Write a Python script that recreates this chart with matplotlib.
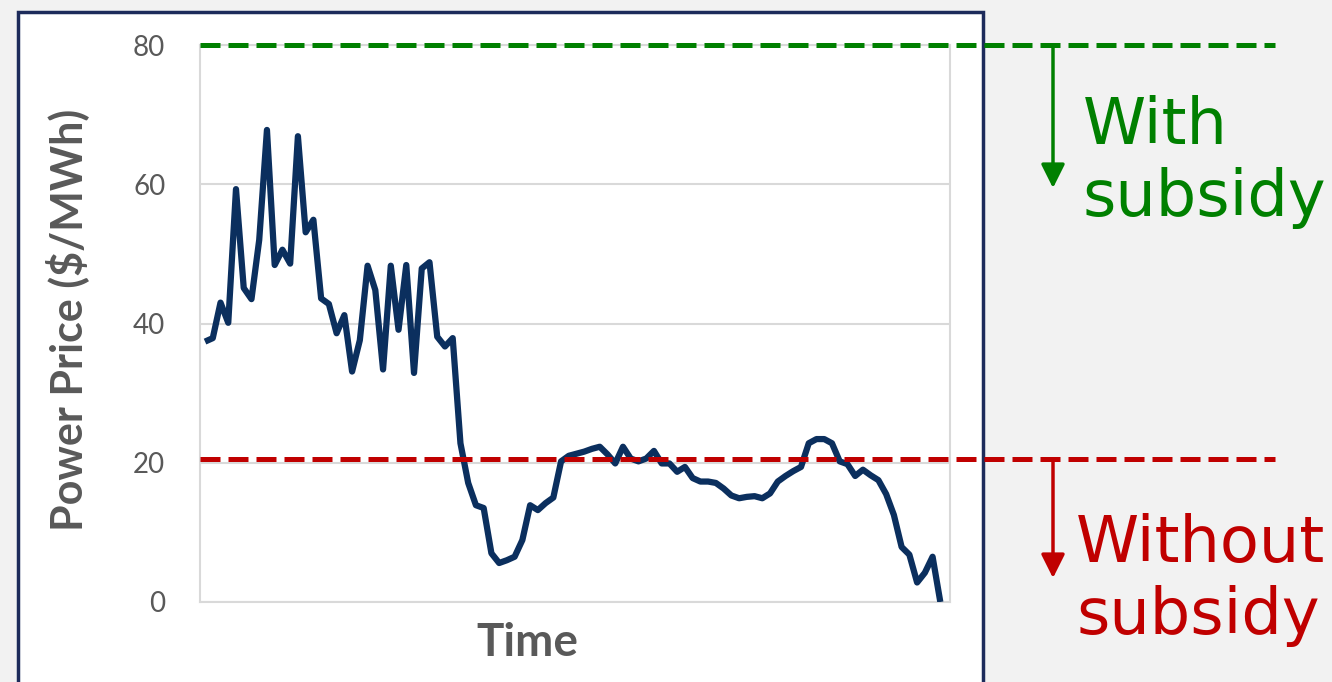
import matplotlib.pyplot as plt
from matplotlib.patches import Rectangle

# 15-minute power prices over one day ($/MWh)
price = [37.4, 37.9, 43.0, 40.1, 59.3, 45.1, 43.5, 52.0, 67.8, 48.4,
         50.6, 48.6, 66.9, 53.1, 54.9, 43.6, 42.8, 38.6, 41.2, 33.1,
         37.6, 48.3, 44.8, 33.4, 48.3, 39.1, 48.4, 32.9, 47.9, 48.8,
         38.1, 36.7, 37.9, 22.8, 17.1, 13.9, 13.5, 7.0, 5.6, 6.0,
         6.5, 8.9, 13.9, 13.2, 14.2, 15.0, 20.2, 21.0, 21.3, 21.6,
         22.0, 22.3, 21.2, 19.9, 22.3, 20.6, 20.2, 20.6, 21.7, 19.9,
         19.9, 18.7, 19.4, 17.8, 17.3, 17.3, 17.1, 16.3, 15.3, 14.9,
         15.1, 15.2, 14.9, 15.6, 17.3, 18.1, 18.8, 19.4, 22.8, 23.4,
         23.4, 22.8, 20.2, 19.8, 18.1, 19.0, 18.2, 17.5, 15.5, 12.5,
         7.9, 6.8, 2.8, 4.2, 6.5, 0.0]
steps = list(range(len(price)))

price_with_subsidy = 80
price_without_subsidy = 20.5
yticks = [0, 20, 40, 60, 80]

navy = '#0b2f5e'
green = '#008000'
red = '#c00000'
grey_txt = '#595959'
grid_c = '#d9d9d9'

fig = plt.figure(figsize=(13.32, 6.82), dpi=100)
fig.patch.set_facecolor('#f2f2f2')

# white panel behind the chart
panel = Rectangle((18 / 1332, -0.05), 965 / 1332, 1.05 - 12 / 682,
                  transform=fig.transFigure, facecolor='white',
                  edgecolor='#1d2b5b', linewidth=2.5, zorder=-1)
fig.patches.append(panel)

ax = fig.add_axes([200 / 1332, 1 - 602 / 682, 750 / 1332, 557 / 682])
ax.set_facecolor('white')

ax.plot(steps, price, color=navy, lw=4.5, solid_joinstyle='round',
        solid_capstyle='butt', zorder=3)

ax.set_xlim(-0.65, 96.25)
ax.set_ylim(0, 80)
ax.set_xticks([])
ax.set_yticks(yticks)
ax.grid(axis='y', color=grid_c, lw=1.5)
ax.set_axisbelow(True)
for s in ax.spines.values():
    s.set_color(grid_c)
    s.set_linewidth(1.5)
ax.tick_params(axis='y', length=0, pad=25, labelsize=20, labelcolor=grey_txt)
for lbl in ax.get_yticklabels():
    lbl.set_family('Lato')

ax.set_ylabel('Power Price ($/MWh)', fontsize=31, fontweight='bold',
              color=grey_txt, family='Lato')
ax.yaxis.set_label_coords(-0.148, 0.506)
ax.set_xlabel('Time', fontsize=33, fontweight='bold', color=grey_txt,
              family='Lato')
ax.xaxis.set_label_coords(0.437, -0.036)

# dashed reference levels running past the panel
ytr = ax.get_yaxis_transform()
for level, c in [(price_with_subsidy, green), (price_without_subsidy, red)]:
    ax.plot([0, 1.433], [level, level], transform=ytr, color=c, lw=3.6,
            dashes=(4.0, 1.6), clip_on=False, zorder=4)

# downward arrows
arrow_x = 1053 / 1332
for y0, y1, c in [(1 - 45 / 682, 1 - 188 / 682, green),
                  (1 - 459 / 682, 1 - 578 / 682, red)]:
    ax.annotate('', xy=(arrow_x, y1), xytext=(arrow_x, y0),
                xycoords='figure fraction', textcoords='figure fraction',
                arrowprops=dict(arrowstyle='-|>', color=c, lw=2.5,
                                mutation_scale=36, shrinkA=0, shrinkB=0))

fig.text(1083 / 1332, 1 - 216 / 682, 'With\nsubsidy', color=green,
         fontsize=46, family='DejaVu Sans', va='baseline', ha='left',
         linespacing=1.2)
fig.text(1076 / 1332, 1 - 634 / 682, 'Without\nsubsidy', color=red,
         fontsize=46, family='DejaVu Sans', va='baseline', ha='left',
         linespacing=1.2, multialignment='left')

fig.savefig('out.png', dpi=100, facecolor=fig.get_facecolor())
